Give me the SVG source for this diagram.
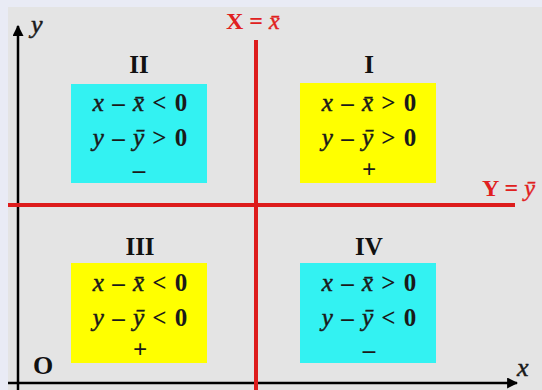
<svg xmlns="http://www.w3.org/2000/svg" width="542" height="390" viewBox="0 0 542 390">
<defs>
<marker id="ah" viewBox="0 0 10 10" refX="9" refY="5" markerWidth="11" markerHeight="11" markerUnits="userSpaceOnUse" orient="auto">
<path d="M0,0 L10,5 L0,10 z" fill="#000"/>
</marker>
</defs>
<style>
.f{font-family:"Liberation Serif","DejaVu Serif",serif;font-size:25px;font-weight:bold;fill:#1a1a1a;text-anchor:middle;word-spacing:2px}
.i{font-style:italic;font-weight:normal;stroke:#1a1a1a;stroke-width:0.5}
.num{font-family:"Liberation Serif","DejaVu Serif",serif;font-size:25px;font-weight:bold;fill:#111;text-anchor:middle}
.red{font-family:"Liberation Serif","DejaVu Serif",serif;font-size:24px;font-weight:bold;fill:#e02020}
.ri{font-style:italic;font-weight:normal;stroke:#e02020;stroke-width:0.4}
.cy{fill:#33f2f2}
.ye{fill:#ffff00}
</style>
<rect x="0" y="0" width="542" height="390" fill="#e9ebf5"/>
<rect x="8" y="7" width="534" height="383" fill="#e4e4e4"/>
<g id="connectors">
<line x1="18" y1="390" x2="18" y2="26" stroke="#000" stroke-width="2.5" marker-end="url(#ah)"/>
<line x1="8" y1="383" x2="517" y2="383" stroke="#000" stroke-width="2.5" marker-end="url(#ah)"/>
<line x1="256" y1="40" x2="256" y2="390" stroke="#dd1c1c" stroke-width="4"/>
<line x1="8" y1="205" x2="515" y2="205" stroke="#dd1c1c" stroke-width="4"/>
</g>
<g id="labels">
<text x="31" y="33" class="f i" style="text-anchor:start;font-size:26px">y</text>
<text x="517" y="376" class="f i" style="text-anchor:start;font-size:26px">x</text>
<text x="33" y="374" class="num" style="text-anchor:start;font-size:26px">O</text>
<text x="226" y="29" class="red">X = <tspan class="ri">x̄</tspan></text>
<text x="482" y="196" class="red">Y = <tspan class="ri">ȳ</tspan></text>
</g>
<g id="q2">
<text x="139" y="73" class="num">II</text>
<rect x="71" y="84" width="136" height="99" class="cy"/>
<text x="140" y="111" class="f"><tspan class="i">x</tspan> – <tspan class="i">x̄</tspan> &lt; 0</text>
<text x="140" y="146" class="f"><tspan class="i">y</tspan> – <tspan class="i">ȳ</tspan> &gt; 0</text>
<text x="139" y="178" class="f">–</text>
</g>
<g id="q1">
<text x="369" y="73" class="num">I</text>
<rect x="300" y="83" width="136" height="100" class="ye"/>
<text x="369" y="111" class="f"><tspan class="i">x</tspan> – <tspan class="i">x̄</tspan> &gt; 0</text>
<text x="369" y="146" class="f"><tspan class="i">y</tspan> – <tspan class="i">ȳ</tspan> &gt; 0</text>
<text x="369" y="178" class="f">+</text>
</g>
<g id="q3">
<text x="140" y="255" class="num">III</text>
<rect x="71" y="263" width="136" height="100" class="ye"/>
<text x="140" y="291" class="f"><tspan class="i">x</tspan> – <tspan class="i">x̄</tspan> &lt; 0</text>
<text x="140" y="326" class="f"><tspan class="i">y</tspan> – <tspan class="i">ȳ</tspan> &lt; 0</text>
<text x="140" y="358" class="f">+</text>
</g>
<g id="q4">
<text x="369" y="255" class="num">IV</text>
<rect x="300" y="263" width="136" height="100" class="cy"/>
<text x="369" y="291" class="f"><tspan class="i">x</tspan> – <tspan class="i">x̄</tspan> &gt; 0</text>
<text x="369" y="326" class="f"><tspan class="i">y</tspan> – <tspan class="i">ȳ</tspan> &lt; 0</text>
<text x="369" y="358" class="f">–</text>
</g>
</svg>
